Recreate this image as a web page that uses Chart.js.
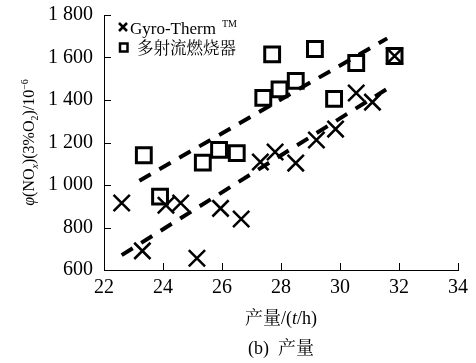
<!DOCTYPE html>
<html><head><meta charset="utf-8">
<script src="https://cdn.jsdelivr.net/npm/chart.js@4/dist/chart.umd.min.js"></script>
<style>html,body{margin:0;padding:0;background:#fff;}#wrap{width:476px;height:363px;}</style>
</head><body><div id="wrap"><canvas id="c" width="476" height="363"></canvas></div>
<script>
// ---- data ----
const xTicks = [22, 24, 26, 28, 30, 32, 34];
const yTicks = [600, 800, 1000, 1200, 1400, 1600, 1800];
const gyroX = [22.6, 23.3, 24.1, 24.6, 25.15, 25.95, 26.65, 27.3, 27.8, 28.5, 29.2, 29.85, 30.55, 31.1, 31.85];
const gyroY = [915, 690, 905, 915, 655, 890, 840, 1108, 1155, 1103, 1212, 1263, 1433, 1390, 1607];
const multiX = [23.35, 23.9, 25.35, 25.9, 26.5, 27.4, 27.7, 27.95, 28.5, 29.15, 29.8, 30.55, 31.85];
const multiY = [1140, 945, 1105, 1165, 1150, 1410, 1615, 1450, 1490, 1640, 1405, 1574, 1607];
const gyroTrendX = [22.6, 31.8];
const gyroTrendY = [670, 1470];
const multiTrendX = [23.2, 31.6];
const multiTrendY = [1020, 1690];
const seriesNames = ['Gyro-Therm', '多射流燃烧器'];

const zip = (xs, ys) => xs.map((x, i) => ({x: x, y: ys[i]}));
const SERIF = '"Liberation Serif", "Times New Roman", "Noto Serif CJK SC", "Noto Sans CJK SC", serif';

function drawRuns(ctx, runs, baseSize, subScale) {
  const ss = subScale || 0.65;
  let total = 0;
  runs.forEach(r => {
    const sz = r.sub || r.sup ? baseSize * ss : baseSize;
    ctx.font = (r.italic ? 'italic ' : '') + sz + 'px ' + SERIF;
    r._w = ctx.measureText(r.t).width;
    r._sz = sz;
    total += r._w;
  });
  let x = -total / 2;
  runs.forEach(r => {
    ctx.font = (r.italic ? 'italic ' : '') + r._sz + 'px ' + SERIF;
    let dy = 0;
    if (r.sub) dy = baseSize * 0.22;
    if (r.sup) dy = -baseSize * 0.38;
    ctx.fillText(r.t, x, dy);
    x += r._w;
  });
}

const decor = {
  id: 'decor',
  afterDraw(chart) {
    const ctx = chart.ctx;
    const xs = chart.scales.x, ys = chart.scales.y;
    const a = chart.chartArea;
    ctx.save();
    ctx.strokeStyle = '#000';
    ctx.lineWidth = 1;
    // inward tick marks
    ctx.beginPath();
    xTicks.forEach(v => {
      const p = Math.round(xs.getPixelForValue(v)) + 0.5;
      ctx.moveTo(p, a.bottom); ctx.lineTo(p, a.bottom - 7);
    });
    yTicks.forEach(v => {
      const p = Math.round(ys.getPixelForValue(v)) + 0.5;
      ctx.moveTo(a.left, p); ctx.lineTo(a.left + 7, p);
    });
    ctx.stroke();

    ctx.fillStyle = '#000';
    ctx.textBaseline = 'alphabetic';
    // legend
    ctx.lineWidth = 2.5;
    ctx.beginPath();
    ctx.moveTo(119, 23); ctx.lineTo(127, 31);
    ctx.moveTo(127, 23); ctx.lineTo(119, 31);
    ctx.stroke();
    ctx.strokeRect(120, 43.5, 7.5, 8);
    ctx.textAlign = 'left';
    ctx.font = '17px ' + SERIF;
    ctx.fillText(seriesNames[0], 130, 34);
    ctx.font = '10px ' + SERIF;
    ctx.fillText('TM', 222, 27);
    ctx.font = '16.5px "Noto Serif CJK SC", "Noto Sans CJK SC", serif';
    ctx.textBaseline = 'middle';
    ctx.fillText(seriesNames[1], 137, 48);

    // x axis title
    ctx.textBaseline = 'alphabetic';
    ctx.save();
    ctx.translate((a.left + a.right) / 2, 324);
    drawRuns(ctx, [{t: '产量/('}, {t: 't', italic: true}, {t: '/h)'}], 18);
    ctx.restore();
    ctx.save();
    ctx.translate((a.left + a.right) / 2, 354);
    drawRuns(ctx, [{t: '(b)  产量'}], 18);
    ctx.restore();

    // y axis title
    ctx.save();
    ctx.translate(34, 142.5);
    ctx.rotate(-Math.PI / 2);
    drawRuns(ctx, [
      {t: 'φ', italic: true}, {t: '(NO'}, {t: 'x', italic: true, sub: true},
      {t: ')(3%O'}, {t: '2', sub: true}, {t: ')/10'}, {t: '−6', sup: true}
    ], 16, 0.62);
    ctx.restore();
    ctx.restore();
  }
};

new Chart(document.getElementById('c'), {
  type: 'scatter',
  data: {
    datasets: [
      {label: 'trend2', data: zip(multiTrendX, multiTrendY), showLine: true, borderColor: '#000',
       borderWidth: 4, borderDash: [13, 10], pointRadius: 0, fill: false},
      {label: 'trend1', data: zip(gyroTrendX, gyroTrendY), showLine: true, borderColor: '#000',
       borderWidth: 4, borderDash: [13, 10], pointRadius: 0, fill: false},
      {label: seriesNames[0], data: zip(gyroX, gyroY), pointStyle: 'crossRot', pointRadius: 11.5,
       borderColor: '#000', borderWidth: 2.5, backgroundColor: 'rgba(0,0,0,0)'},
      {label: seriesNames[1], data: zip(multiX, multiY), pointStyle: 'rect', pointRadius: 10.5,
       borderColor: '#000', borderWidth: 3, backgroundColor: 'rgba(0,0,0,0)'}
    ]
  },
  options: {
    responsive: false, animation: false, devicePixelRatio: 1,
    layout: {padding: {left: 0, right: 18, top: 15, bottom: 0}},
    plugins: {legend: {display: false}, tooltip: {enabled: false}},
    scales: {
      x: {
        type: 'linear', min: 22, max: 34,
        afterBuildTicks: s => { s.ticks = xTicks.map(v => ({value: v})); },
        afterFit: s => { s.height = 93; },
        grid: {display: false, drawTicks: false},
        border: {display: true, color: '#000', width: 1},
        ticks: {color: '#000', padding: 6, maxRotation: 0, font: {family: SERIF, size: 20}}
      },
      y: {
        type: 'linear', min: 600, max: 1800,
        afterBuildTicks: s => { s.ticks = yTicks.map(v => ({value: v})); },
        afterFit: s => { s.width = 104; },
        grid: {display: false, drawTicks: false},
        border: {display: true, color: '#000', width: 1},
        ticks: {color: '#000', padding: 11, font: {family: SERIF, size: 20, lineHeight: 0.3},
          callback: v => v >= 1000 ? String(v).replace(/(\d)(\d{3})$/, '$1 $2') : String(v)}
      }
    }
  },
  plugins: [decor]
});
</script></body></html>
